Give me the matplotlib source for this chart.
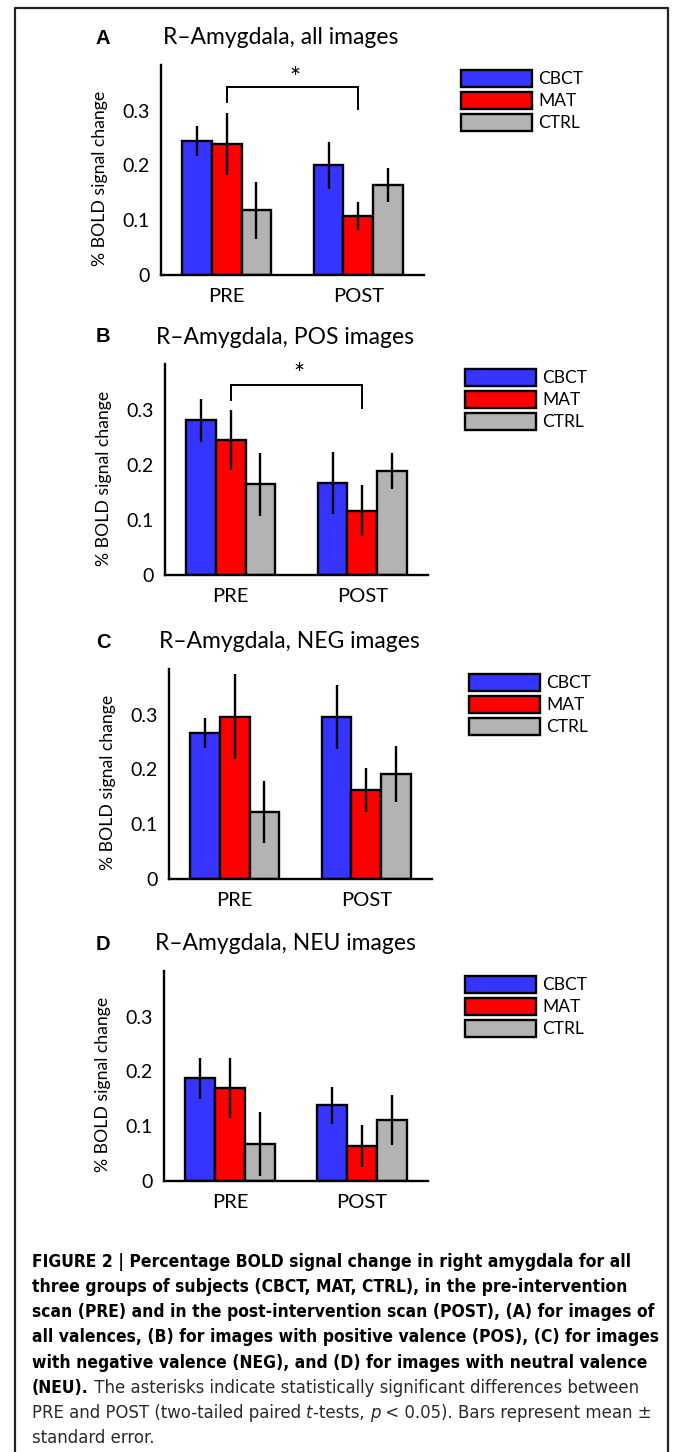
import matplotlib
matplotlib.use('Agg')
import matplotlib.pyplot as plt
from matplotlib import font_manager as fm
from matplotlib.lines import Line2D
import numpy as np

# ---- data ----
groups = ['PRE', 'POST']
series = ['CBCT', 'MAT', 'CTRL']
colors = ['#3535ff', '#ff0000', '#b3b3b3']

# panel A: all images
cbct_all = [0.244, 0.200]; cbct_all_se = [0.027, 0.043]
mat_all = [0.239, 0.108];  mat_all_se = [0.056, 0.026]
ctrl_all = [0.118, 0.164]; ctrl_all_se = [0.052, 0.031]
# panel B: positive images
cbct_pos = [0.281, 0.167]; cbct_pos_se = [0.039, 0.056]
mat_pos = [0.245, 0.117];  mat_pos_se = [0.055, 0.047]
ctrl_pos = [0.165, 0.189]; ctrl_pos_se = [0.057, 0.032]
# panel C: negative images
cbct_neg = [0.266, 0.296]; cbct_neg_se = [0.027, 0.058]
mat_neg = [0.296, 0.163];  mat_neg_se = [0.077, 0.040]
ctrl_neg = [0.122, 0.191]; ctrl_neg_se = [0.057, 0.051]
# panel D: neutral images
cbct_neu = [0.187, 0.138]; cbct_neu_se = [0.037, 0.034]
mat_neu = [0.169, 0.064];  mat_neu_se = [0.055, 0.038]
ctrl_neu = [0.068, 0.111]; ctrl_neu_se = [0.058, 0.045]

yticks = [0, 0.1, 0.2, 0.3]
ytick_labels = ['0', '0.1', '0.2', '0.3']

# significance brackets (left foot, top, right foot, asterisk height)
sig_all = (0.316, 0.342, 0.302, 0.357)
sig_pos = (0.318, 0.345, 0.304, 0.362)

panels = [
    ('A', 'R\u2013Amygdala, all images',
     [cbct_all, mat_all, ctrl_all], [cbct_all_se, mat_all_se, ctrl_all_se], sig_all),
    ('B', 'R\u2013Amygdala, POS images',
     [cbct_pos, mat_pos, ctrl_pos], [cbct_pos_se, mat_pos_se, ctrl_pos_se], sig_pos),
    ('C', 'R\u2013Amygdala, NEG images',
     [cbct_neg, mat_neg, ctrl_neg], [cbct_neg_se, mat_neg_se, ctrl_neg_se], None),
    ('D', 'R\u2013Amygdala, NEU images',
     [cbct_neu, mat_neu, ctrl_neu], [cbct_neu_se, mat_neu_se, ctrl_neu_se], None),
]

caption_bold = [
    'FIGURE 2 | Percentage BOLD signal change in right amygdala for all',
    'three groups of subjects (CBCT, MAT, CTRL), in the pre-intervention',
    'scan (PRE) and in the post-intervention scan (POST), (A) for images of',
    'all valences, (B) for images with positive valence (POS), (C) for images',
    'with negative valence (NEG), and (D) for images with neutral valence',
]
# (text, style) pieces of the mixed lines
caption_line6 = [('(NEU).', 'bold'),
                 (' The asterisks indicate statistically significant differences between', 'regular')]
caption_line7 = [('PRE and POST (two-tailed paired ', 'regular'), ('t', 'italic'),
                 ('-tests, ', 'regular'), ('p', 'italic'),
                 (' < 0.05). Bars represent mean \u00b1', 'regular')]
caption_line8 = [('standard error.', 'regular')]

# ---- layout ----
W, H = 673, 1452
# axes boxes in pixels: left, right, top, bottom
boxes = [(161, 424, 65, 275), (165, 428, 364, 575),
         (169, 432, 669, 879), (164, 428, 971, 1181)]
title_x = [163, 156, 159, 155]

plt.rcParams['font.family'] = ['Lato', 'DejaVu Sans']


def narrow_font(style):
    # look for a condensed / narrow face for the caption
    cands = []
    for f in fm.fontManager.ttflist:
        tag = (f.name + ' ' + f.fname).lower()
        if 'narrow' in tag or 'condensed' in tag or f.stretch in ('condensed', 'semi-condensed'):
            w = f.weight if isinstance(f.weight, int) else (700 if 'bold' in str(f.weight) else 400)
            it = f.style in ('italic', 'oblique')
            score = 0 if 'liberation' in tag else 1
            if style == 'bold' and w >= 600 and not it:
                cands.append((score, f.fname))
            elif style == 'regular' and w < 600 and not it:
                cands.append((score, f.fname))
            elif style == 'italic' and w < 600 and it:
                cands.append((score, f.fname))
    if cands:
        cands.sort()
        return fm.FontProperties(fname=cands[0][1])
    fp = fm.FontProperties(family='DejaVu Sans')
    if style == 'bold':
        fp.set_weight('bold')
    if style == 'italic':
        fp.set_style('italic')
    return fp


cap_fp = {s: narrow_font(s) for s in ('bold', 'regular', 'italic')}

fig = plt.figure(figsize=(W / 100, H / 100), dpi=100)

width = 0.225
offsets = [-width, 0, width]
x = np.arange(1, len(groups) + 1)

for (letter, title, means, errs, sig), (l, r, t, b), tx in zip(panels, boxes, title_x):
    ax = fig.add_axes([l / W, 1 - b / H, (r - l) / W, (b - t) / H])
    for k in range(len(series)):
        ax.bar(x + offsets[k], means[k], width, yerr=errs[k], color=colors[k],
               edgecolor='black', linewidth=1.7, label=series[k],
               error_kw=dict(ecolor='black', elinewidth=1.7, capsize=0))
    ax.set_xlim(0.5, 2.5)
    ax.set_ylim(0, 0.383)
    ax.set_yticks(yticks)
    ax.set_yticklabels(ytick_labels)
    ax.set_xticks(x)
    ax.set_xticklabels(groups)
    ax.tick_params(length=0, labelsize=14, pad=8)
    ax.tick_params(axis='x', labelsize=14.5, pad=9.5)
    for s in ['top', 'right']:
        ax.spines[s].set_visible(False)
    for s in ['left', 'bottom']:
        ax.spines[s].set_linewidth(1.7)
    ax.set_ylabel('% BOLD signal change', fontsize=12.7, va='center')
    ax.yaxis.set_label_coords(-61 / (r - l), 0.46)

    if sig is not None:
        lf, top, rf, star = sig
        ax.plot([x[0], x[0], x[1], x[1]], [lf, top, top, rf], color='black',
                lw=1.4, solid_joinstyle='miter')
        ax.text(x.mean() + 0.02, star, '*', ha='center', va='center', fontsize=19)

    ax.legend(loc='upper left', bbox_to_anchor=(1 + 37 / (r - l), 1 - 5 / (b - t)),
              frameon=False, fontsize=12.5, handlelength=4.1, handleheight=1.1,
              handletextpad=0.35, labelspacing=0.28, borderpad=0, borderaxespad=0)

    fig.text(tx / W, 1 - (t - 27) / H, title, fontsize=16.5, va='center', ha='left')
    fig.text(96 / W, 1 - (t - 27) / H, letter, fontsize=14.5, fontweight='bold',
             family=['Liberation Sans', 'DejaVu Sans'], va='center', ha='left')

# ---- caption ----
cap_x = 32 / W
base0, step = 1267, 25.14
cap_color = {'bold': 'black', 'regular': '#2a2a2a', 'italic': '#2a2a2a'}
rows = [[(s, 'bold')] for s in caption_bold] + [caption_line6, caption_line7, caption_line8]
cap_rows = []
for i, row in enumerate(rows):
    yy = 1 - (base0 + i * step) / H
    items = []
    for txt, style in row:
        tt = fig.text(cap_x, yy, txt, fontproperties=cap_fp[style].copy(),
                      color=cap_color[style], va='baseline', ha='left')
        tt.cap_style = style
        items.append(tt)
    cap_rows.append(items)

renderer = fig.canvas.get_renderer()


def layout_row(row):
    xpos = cap_x * W
    for tt in row:
        tt.set_x(xpos / W)
        xpos = tt.get_window_extent(renderer).x1
    return xpos


# bold size: first line as wide as in the original (32 -> 627 px)
for row in cap_rows:
    for tt in row:
        tt.set_fontsize(12)
bold_size = 12 * 595 / cap_rows[0][0].get_window_extent(renderer).width
# regular size: the "PRE and POST ..." line as wide as in the original (32 -> 653 px)
reg_w = layout_row(cap_rows[6]) - cap_x * W
reg_size = 12 * 621 / reg_w
for row in cap_rows:
    for tt in row:
        tt.set_fontsize(bold_size if tt.cap_style == 'bold' else reg_size)
    layout_row(row)

# frame around the figure (open at the bottom)
fig.add_artist(Line2D([15 / W, 15 / W, 668 / W, 668 / W], [0, 1 - 8 / H, 1 - 8 / H, 0],
                      transform=fig.transFigure, color='#222222', lw=1.6))

fig.savefig('out.png', dpi=100)
